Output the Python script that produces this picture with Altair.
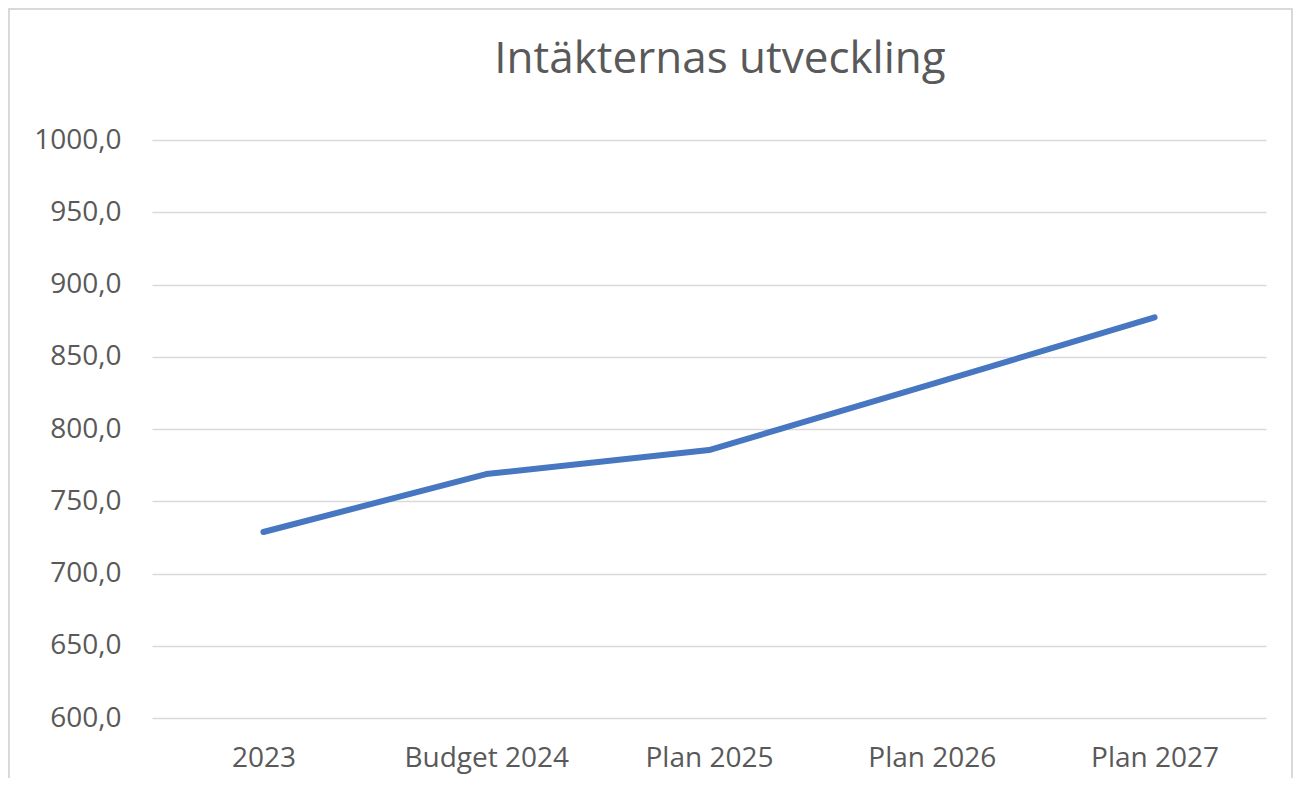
import altair as alt
import pandas as pd

categories = ["2023", "Budget 2024", "Plan 2025", "Plan 2026", "Plan 2027"]
values = [728.7, 768.8, 785.4, 831.0, 877.2]
y_ticks = [600, 650, 700, 750, 800, 850, 900, 950, 1000]
title_text = "Intäkternas utveckling"

df = pd.DataFrame({"kategori": categories, "intakter": values})
one = pd.DataFrame({"t": [title_text]})

FONT = "Open Sans"
GREY = "#595959"

line = alt.Chart(df).mark_line(
    color="#4677C0", strokeWidth=6, strokeCap="round", strokeJoin="round"
).encode(
    x=alt.X("kategori:N", sort=categories, title=None,
            scale=alt.Scale(type="point", padding=0.5),
            axis=alt.Axis(labelAngle=0, ticks=False, domain=False, grid=False,
                          labelFont=FONT, labelFontSize=28, labelColor=GREY,
                          labelPadding=26)),
    y=alt.Y("intakter:Q", title=None,
            scale=alt.Scale(domain=[600, 1000], nice=False, zero=False),
            axis=alt.Axis(values=y_ticks, ticks=False, domain=False,
                          grid=True, gridColor="#d9d9d9", gridWidth=1.6,
                          labelExpr="replace(format(datum.value, '.1f'), '.', ',')",
                          labelFont=FONT, labelFontSize=28, labelColor=GREY,
                          labelPadding=31)),
)

title = alt.Chart(one).mark_text(
    font=FONT, fontSize=44, color=GREY, align="center", baseline="alphabetic"
).encode(
    text="t:N",
    x=alt.value(568),
    y=alt.value(-67),
)

border = alt.Chart(one).mark_rect(
    fill=None, stroke="#d9d9d9", strokeWidth=2
).encode(
    x=alt.value(-143),
    x2=alt.value(1140),
    y=alt.value(-131),
    y2=alt.value(700),
)

chart = alt.layer(border, line, title).properties(
    width=1114,
    height=578,
    background="white",
    autosize=alt.AutoSizeParams(type="none"),
    padding={"left": 144, "top": 132, "right": 27, "bottom": 60},
).configure_view(strokeWidth=0, stroke="transparent")

chart.save("out.html", embed_options={"renderer": "svg", "actions": False})
